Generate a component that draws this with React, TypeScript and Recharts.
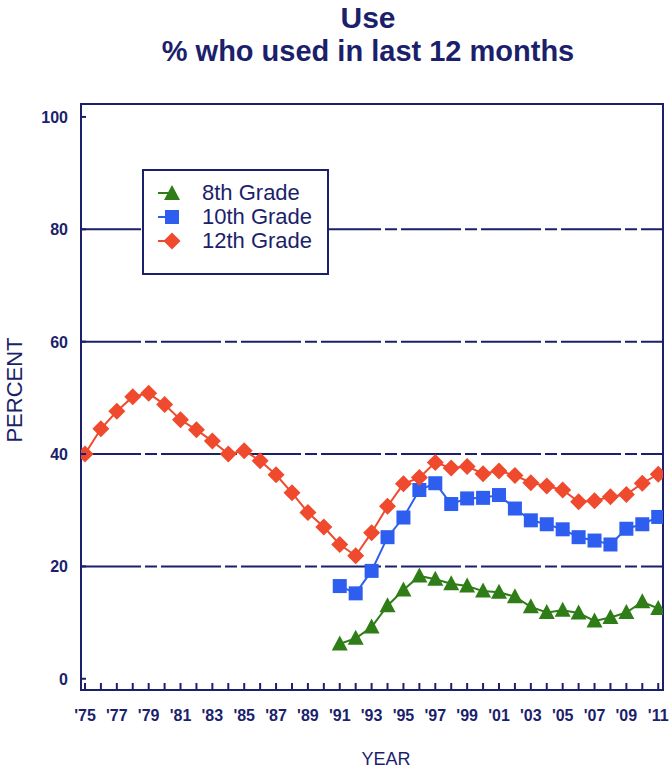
import React from 'react';
import { LineChart, Line, XAxis, YAxis, ReferenceLine, ReferenceArea } from 'recharts';

const years = [1975,1976,1977,1978,1979,1980,1981,1982,1983,1984,1985,1986,1987,1988,1989,1990,1991,1992,1993,1994,1995,1996,1997,1998,1999,2000,2001,2002,2003,2004,2005,2006,2007,2008,2009,2010,2011];
const grade12 = [40.0,44.5,47.6,50.2,50.8,48.8,46.1,44.3,42.3,40.0,40.6,38.8,36.3,33.1,29.6,27.0,23.9,21.9,26.0,30.7,34.7,35.8,38.5,37.5,37.8,36.5,37.0,36.2,34.9,34.3,33.6,31.5,31.7,32.4,32.8,34.8,36.4];
const grade10Years = [1991,1992,1993,1994,1995,1996,1997,1998,1999,2000,2001,2002,2003,2004,2005,2006,2007,2008,2009,2010,2011];
const grade10 = [16.5,15.2,19.2,25.2,28.7,33.6,34.8,31.1,32.1,32.2,32.7,30.3,28.2,27.5,26.6,25.2,24.6,23.9,26.7,27.5,28.8];
const grade8 = [6.2,7.2,9.2,13.0,15.8,18.3,17.7,16.9,16.5,15.6,15.4,14.6,12.8,11.8,12.2,11.7,10.3,10.9,11.8,13.7,12.5];
const yTicks = [0,20,40,60,80,100];
const gridValues = [20,40,60,80];
const labelYears = [1975,1977,1979,1981,1983,1985,1987,1989,1991,1993,1995,1997,1999,2001,2003,2005,2007,2009,2011];
const seriesNames = ['8th Grade','10th Grade','12th Grade'];

const NAVY = '#1c1f6b';
const GREEN = '#2f7d16';
const BLUE = '#2d5ef0';
const RED = '#ef4a2e';
const FONT = "'Liberation Sans', Arial, sans-serif";

const data = years.map((y, i) => {
  const j = grade10Years.indexOf(y);
  return {
    year: y,
    g12: grade12[i],
    g10: j >= 0 ? grade10[j] : null,
    g8: j >= 0 ? grade8[j] : null,
  };
});

const Diamond = (props: any) => {
  const { cx, cy } = props;
  if (cx == null || cy == null || props.value == null) return null;
  const r = 8.5;
  return <polygon points={`${cx},${cy - r} ${cx + r},${cy} ${cx},${cy + r} ${cx - r},${cy}`} fill={RED} />;
};
const Square = (props: any) => {
  const { cx, cy } = props;
  if (cx == null || cy == null || props.value == null) return null;
  const s = 14;
  return <rect x={cx - s / 2} y={cy - s / 2} width={s} height={s} fill={BLUE} />;
};
const Triangle = (props: any) => {
  const { cx, cy } = props;
  if (cx == null || cy == null || props.value == null) return null;
  return <polygon points={`${cx},${cy - 8.5} ${cx + 8},${cy + 6.5} ${cx - 8},${cy + 6.5}`} fill={GREEN} />;
};

const XTick = (props: any) => {
  const { x, y, payload } = props;
  const yr = payload.value;
  const show = labelYears.includes(yr);
  return (
    <g>
      <line x1={x} x2={x} y1={y} y2={y - 7} stroke={NAVY} strokeWidth={2} />
      {show && (
        <text x={x} y={y + 31} textAnchor="middle" fill={NAVY} fontSize={16} fontWeight="bold" fontFamily={FONT}>
          {"'" + String(yr).slice(2)}
        </text>
      )}
    </g>
  );
};

const YTick = (props: any) => {
  const { x, y, payload } = props;
  return (
    <g>
      <line x1={x} x2={x + 5} y1={y} y2={y} stroke={NAVY} strokeWidth={2} />
      <text x={x - 13} y={y + 6} textAnchor="end" fill={NAVY} fontSize={16} fontWeight="bold" fontFamily={FONT}>
        {payload.value}
      </text>
    </g>
  );
};

const legendItems = [
  { name: seriesNames[0], color: GREEN, shape: 'tri' },
  { name: seriesNames[1], color: BLUE, shape: 'sq' },
  { name: seriesNames[2], color: RED, shape: 'dia' },
];

const LegendMarker = ({ shape, color }: any) => (
  <svg width={30} height={20} style={{ display: 'block' }}>
    <line x1={2} x2={16} y1={10} y2={10} stroke={color} strokeWidth={2} />
    {shape === 'tri' && <polygon points="16,2 24,17 8,17" fill={color} />}
    {shape === 'sq' && <rect x={9} y={3} width={14} height={14} fill={color} />}
    {shape === 'dia' && <polygon points="16,1.5 24.5,10 16,18.5 7.5,10" fill={color} />}
  </svg>
);

export default function App() {
  return (
    <div style={{ position: 'absolute', left: 0, top: 0, width: 671, height: 772, background: '#fff', overflow: 'visible' }}>
      <div style={{ position: 'absolute', left: 0, width: 736, top: 2, textAlign: 'center', color: NAVY, fontFamily: FONT, fontWeight: 'bold', fontSize: 30, lineHeight: '32px' }}>
        Use
      </div>
      <div style={{ position: 'absolute', left: 0, width: 736, top: 35, textAlign: 'center', color: NAVY, fontFamily: FONT, fontWeight: 'bold', fontSize: 29, lineHeight: '32px' }}>
        % who used in last 12 months
      </div>
      <LineChart width={671} height={772} data={data} margin={{ top: 104, right: 8, bottom: 32, left: 0 }} style={{ overflow: 'visible' }}>
        <XAxis
          dataKey="year"
          type="number"
          domain={[1974.75, 2011.3]}
          ticks={years}
          interval={0}
          tick={<XTick />}
          tickSize={0}
          tickMargin={0}
          axisLine={false}
          tickLine={false}
          height={50}
          allowDataOverflow
        />
        <YAxis
          type="number"
          domain={[-2, 102.3]}
          ticks={yTicks}
          interval={0}
          tick={<YTick />}
          tickSize={0}
          tickMargin={0}
          axisLine={false}
          tickLine={false}
          width={81}
          allowDataOverflow
        />
        {gridValues.map((v) => (
          <ReferenceLine key={v} y={v} stroke={NAVY} strokeWidth={2} strokeDasharray="60 4 12 4" />
        ))}
        <ReferenceArea x1={1974.75} x2={2011.3} y1={-2} y2={102.3} fill="none" fillOpacity={0} stroke={NAVY} strokeWidth={2} strokeOpacity={1} />
        <Line dataKey="g8" stroke={GREEN} strokeWidth={2} dot={<Triangle />} isAnimationActive={false} />
        <Line dataKey="g10" stroke={BLUE} strokeWidth={2} dot={<Square />} isAnimationActive={false} />
        <Line dataKey="g12" stroke={RED} strokeWidth={2} dot={<Diamond />} isAnimationActive={false} />
      </LineChart>
      <div style={{ position: 'absolute', left: 142, top: 169, width: 183, height: 92, border: `2px solid ${NAVY}`, background: '#fff', paddingTop: 10, boxSizing: 'content-box' }}>
        {legendItems.map((it) => (
          <div key={it.name} style={{ display: 'flex', alignItems: 'center', height: 24, marginLeft: 12 }}>
            <LegendMarker shape={it.shape} color={it.color} />
            <span style={{ marginLeft: 16, color: NAVY, fontSize: 22, fontFamily: FONT, lineHeight: '24px' }}>{it.name}</span>
          </div>
        ))}
      </div>
      <div style={{ position: 'absolute', left: 5, top: 380, transform: 'rotate(-90deg)', transformOrigin: 'center', width: 20, height: 20, display: 'flex', alignItems: 'center', justifyContent: 'center' }}>
        <span style={{ whiteSpace: 'nowrap', color: NAVY, fontSize: 22, fontFamily: FONT }}>PERCENT</span>
      </div>
      <div style={{ position: 'absolute', left: 0, width: 772, top: 749, textAlign: 'center', color: NAVY, fontSize: 18, fontFamily: FONT }}>
        YEAR
      </div>
    </div>
  );
}
